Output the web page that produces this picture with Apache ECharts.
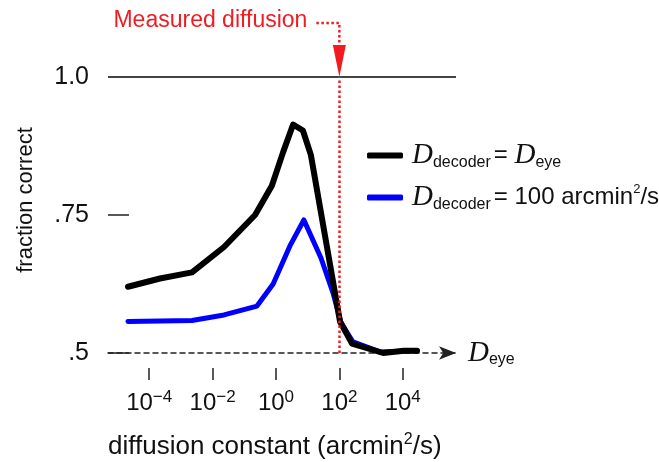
<!DOCTYPE html>
<html><head><meta charset="utf-8">
<script src="https://cdn.jsdelivr.net/npm/echarts@6/dist/echarts.min.js"></script>
<style>html,body{margin:0;padding:0;background:#fff}#c{width:659px;height:462px}</style>
</head><body><div id="c"></div>
<script>
// log10 of diffusion constant (arcmin^2/s) and fraction correct
const blackLogD = [-4.67, -3.66, -2.65, -1.64, -0.66, -0.13, 0.22, 0.54, 0.85, 1.10, 2.02, 2.40, 3.38, 4.04, 4.45];
const blackFrac = [0.620, 0.635, 0.646, 0.692, 0.750, 0.803, 0.863, 0.914, 0.903, 0.859, 0.557, 0.517, 0.500, 0.504, 0.504];
const blueLogD  = [-4.67, -3.66, -2.65, -1.64, -0.60, -0.09, 0.44, 0.88, 1.42, 1.80, 2.05, 2.43, 3.28, 4.45];
const blueFrac  = [0.557, 0.558, 0.559, 0.569, 0.585, 0.625, 0.694, 0.741, 0.672, 0.609, 0.555, 0.520, 0.502, 0.504];
const xTickExponents = [-4, -2, 0, 2, 4];
const yTickLabels = { '0.5': '.5', '0.75': '.75', '1': '1.0' };
const measuredLogD = 2;
const seriesNames = ['Ddecoder = Deye', 'Ddecoder = 100 arcmin2/s'];

const SANS = 'Liberation Sans, Arial, Helvetica, sans-serif';
const SERIF = 'Liberation Serif, Times New Roman, serif';
const RED = '#f01c22';

const chart = echarts.init(document.getElementById('c'), null, { renderer: 'canvas' });

const toPairs = (xs, ys) => xs.map((x, i) => [x, ys[i]]);

const option = {
  backgroundColor: '#fff',
  animation: false,
  grid: { left: 108, right: 203, top: 77, bottom: 109, containLabel: false },
  xAxis: [
    {
      type: 'value', min: -5.3, max: 5.68, position: 'bottom',
      axisLine: { show: true, onZero: false, symbol: ['none', 'arrow'], symbolSize: [10, 17], symbolOffset: [0, 0],
        lineStyle: { color: '#222', width: 1.5, type: [5, 4] } },
      axisTick: { show: false }, axisLabel: { show: false }, splitLine: { show: false }
    },
    {
      type: 'value', min: -5.3, max: 5.68, position: 'bottom', offset: 15,
      axisLine: { show: false, onZero: false },
      axisTick: { show: true, inside: false, length: 12, customValues: xTickExponents,
        lineStyle: { color: '#222', width: 1.5 } },
      axisLabel: {
        show: true, margin: 21, customValues: xTickExponents,
        formatter: v => '{b|10}{s|' + (v < 0 ? '\u2212' + (-v) : String(v)) + '}',
        rich: {
          b: { fontFamily: SANS, fontSize: 24, color: '#111', lineHeight: 28 },
          s: { fontFamily: SANS, fontSize: 17, color: '#111', lineHeight: 16, verticalAlign: 'top' }
        }
      },
      splitLine: { show: false }
    }
  ],
  yAxis: {
    type: 'value', min: 0.5, max: 1.0, interval: 0.25, position: 'left',
    axisLine: { show: false, onZero: false },
    axisTick: { show: true, inside: true, length: 21, lineStyle: { color: '#222', width: 1.5 } },
    axisLabel: { margin: 19, fontFamily: SANS, fontSize: 25, color: '#111',
      formatter: v => yTickLabels[String(v)] || '' },
    splitLine: { show: false }
  },
  legend: {
    orient: 'vertical', left: 362, top: 136, itemGap: 12,
    itemWidth: 36, itemHeight: 6, icon: 'roundRect',
    data: [seriesNames[0], seriesNames[1]],
    formatter: name => name === seriesNames[0]
      ? '{D|D}{sub|decoder}{eq|= }{D|D}{sub|eye}'
      : '{D|D}{sub|decoder}{eq|= 100 arcmin}{sup|2}{eq|/s}',
    textStyle: {
      padding: [0, 0, 0, 4],
      rich: {
        D: { fontFamily: SERIF, fontStyle: 'italic', fontSize: 29, color: '#111', lineHeight: 30 },
        sub: { fontFamily: SANS, fontSize: 16, color: '#111', lineHeight: 14, verticalAlign: 'bottom', padding: [0, 3, 0, 0] },
        eq: { fontFamily: SANS, fontSize: 24, color: '#111', lineHeight: 30 },
        sup: { fontFamily: SANS, fontSize: 13, color: '#111', lineHeight: 16, verticalAlign: 'top' }
      }
    }
  },
  series: [
    {
      name: seriesNames[1], type: 'line', xAxisIndex: 0, symbol: 'none',
      data: toPairs(blueLogD, blueFrac),
      lineStyle: { color: '#0000ff', width: 5, join: 'round', cap: 'round' },
      itemStyle: { color: '#0000ff' }, z: 2
    },
    {
      name: seriesNames[0], type: 'line', xAxisIndex: 0, symbol: 'none',
      data: toPairs(blackLogD, blackFrac),
      lineStyle: { color: '#000', width: 6, join: 'round', cap: 'round' },
      itemStyle: { color: '#000' }, z: 3,
      markLine: {
        silent: true, symbol: 'none', label: { show: false }, z: 5,
        data: [
          { yAxis: 1.0, lineStyle: { color: '#444', width: 2, type: 'solid' } },
          { xAxis: measuredLogD, lineStyle: { color: RED, width: 2.5, type: [2.5, 2.5] } }
        ]
      }
    }
  ]
};
chart.setOption(option);

// annotation above the plot: label, dotted leader and arrow pointing at the measured value
const px = chart.convertToPixel({ xAxisIndex: 0 }, measuredLogD);
const pyTop = chart.convertToPixel({ yAxisIndex: 0 }, 1.0);
const leaderY = 23;
chart.setOption({
  graphic: [
    { type: 'text', z: 10,
      style: { x: px - 32, y: 21, text: 'Measured diffusion', align: 'right', verticalAlign: 'middle',
        font: '23px ' + SANS, fill: RED } },
    { type: 'polyline', z: 10,
      shape: { points: [[px - 23, leaderY], [px, leaderY], [px, pyTop - 32]] },
      style: { stroke: RED, lineWidth: 2.5, lineDash: [2.5, 2.5], fill: null } },
    { type: 'polygon', z: 10,
      shape: { points: [[px - 6.5, pyTop - 32], [px + 6.5, pyTop - 32], [px, pyTop]] },
      style: { fill: RED } },
    { type: 'text', z: 10,
      style: { x: 468, y: 353, verticalAlign: 'middle',
        text: '{D|D}{sub|eye}',
        rich: {
          D: { fontFamily: SERIF, fontStyle: 'italic', fontSize: 29, fill: '#111', lineHeight: 30 },
          sub: { fontFamily: SANS, fontSize: 16, fill: '#111', lineHeight: 14, verticalAlign: 'bottom' }
        } } },
    { type: 'text', z: 10,
      style: { x: 108, y: 447, verticalAlign: 'middle',
        text: '{t|diffusion constant (arcmin}{s|2}{t|/s)}',
        rich: {
          t: { fontFamily: SANS, fontSize: 26, fill: '#111', lineHeight: 30 },
          s: { fontFamily: SANS, fontSize: 16, fill: '#111', lineHeight: 16, verticalAlign: 'top' }
        } } },
    { type: 'text', z: 10, x: 26, y: 200, rotation: Math.PI / 2,
      style: { x: 0, y: 0, text: 'fraction correct', align: 'center', verticalAlign: 'middle',
        font: '22px ' + SANS, fill: '#111' } }
  ]
});
</script>
</body></html>
